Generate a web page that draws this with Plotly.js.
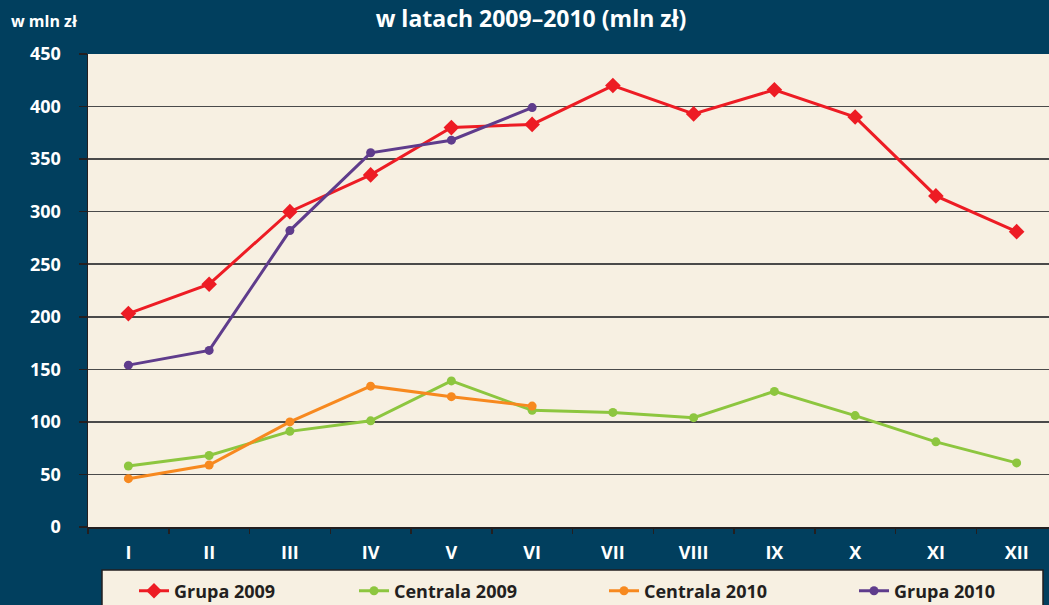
<!DOCTYPE html>
<html><head><meta charset="utf-8">
<script src="https://cdn.plot.ly/plotly-3.0.1.min.js"></script>
<style>html,body{margin:0;padding:0;overflow:hidden;background:#013f5e;}#c{width:1057px;height:605px;}</style>
</head><body><div id="c"></div>
<script>
const months = ['I','II','III','IV','V','VI','VII','VIII','IX','X','XI','XII'];
const grupa2009 = [203, 231, 300, 335, 380, 383, 420, 393, 416, 390, 315, 281];
const centrala2009 = [58, 68, 91, 101, 139, 111, 109, 104, 129, 106, 81, 61];
const centrala2010 = [46, 59, 100, 134, 124, 115];
const grupa2010 = [154, 168, 282, 356, 368, 399];
const yTicks = [0, 50, 100, 150, 200, 250, 300, 350, 400, 450];

const W = 1057, L = 88, T = 54, B = 78, H = 605;
const PW = W - L, PH = H - T - B;
const px = v => (v - L) / PW;
const py = v => (H - B - v) / PH;

const tickFont = {family: '"Open Sans", "Noto Sans", sans-serif', size: 18, color: '#ffffff', weight: 700};
const legFont = {family: '"Open Sans", "Noto Sans", sans-serif', size: 18, color: '#231f20', weight: 700};

const traces = [
  {name: 'Grupa 2009', x: months.slice(0, grupa2009.length), y: grupa2009, mode: 'lines+markers',
   line: {color: '#ed1c24', width: 3}, marker: {symbol: 'diamond', size: 12, color: '#ed1c24'}, legend: 'legend'},
  {name: 'Centrala 2009', x: months.slice(0, centrala2009.length), y: centrala2009, mode: 'lines+markers',
   line: {color: '#8dc63f', width: 3}, marker: {symbol: 'circle', size: 9, color: '#8dc63f'}, legend: 'legend2'},
  {name: 'Centrala 2010', x: months.slice(0, centrala2010.length), y: centrala2010, mode: 'lines+markers',
   line: {color: '#f7891f', width: 3}, marker: {symbol: 'circle', size: 9, color: '#f7891f'}, legend: 'legend3'},
  {name: 'Grupa 2010', x: months.slice(0, grupa2010.length), y: grupa2010, mode: 'lines+markers',
   line: {color: '#5f3c8c', width: 3}, marker: {symbol: 'circle', size: 9, color: '#5f3c8c'}, legend: 'legend4'}
];

function leg(xpix) {
  return {orientation: 'h', x: px(xpix), xanchor: 'left', y: py(591), yanchor: 'middle',
    bgcolor: 'rgba(0,0,0,0)', borderwidth: 0, font: legFont, itemclick: false};
}

const layout = {
  width: W, height: H,
  margin: {l: L, r: 0, t: T, b: B, pad: 0, autoexpand: false},
  paper_bgcolor: '#013f5e',
  plot_bgcolor: '#f7f0e2',
  showlegend: true,
  title: {text: 'w latach 2009\u20132010 (mln z\u0142)', x: 531 / W, xanchor: 'center', xref: 'container',
    y: 1 - 19 / H, yanchor: 'middle', automargin: false,
    font: {family: '"Open Sans", "Noto Sans", sans-serif', size: 23, color: '#ffffff', weight: 700}},
  xaxis: {type: 'category', categoryorder: 'array', categoryarray: months, range: [-0.5, 11.5],
    showgrid: false, zeroline: false, showline: true, linecolor: '#231f20', linewidth: 2,
    ticks: 'outside', tickson: 'boundaries', ticklen: 5, tickwidth: 1.5, tickcolor: '#231f20',
    tickfont: tickFont, ticklabelstandoff: 8, fixedrange: true, automargin: false},
  yaxis: {range: [0, 450], tickvals: yTicks, ticktext: yTicks.map(String),
    showgrid: true, gridcolor: '#4a4a4a', gridwidth: 1.5, zeroline: false,
    showline: true, linecolor: '#231f20', linewidth: 1.5,
    ticks: 'outside', ticklen: 8, tickwidth: 1.5, tickcolor: '#231f20',
    tickfont: tickFont, ticklabelstandoff: 14, fixedrange: true, automargin: false},
  legend: leg(134), legend2: leg(354), legend3: leg(604), legend4: leg(854),
  shapes: [
    {type: 'rect', xref: 'paper', yref: 'paper', x0: px(102), x1: px(1043), y0: py(570), y1: py(640),
     fillcolor: '#f7f0e2', line: {color: '#231f20', width: 1.5}, layer: 'above'}
  ],
  annotations: [
    {text: 'w mln z\u0142', xref: 'paper', yref: 'paper', x: px(9), xanchor: 'left', y: py(21), yanchor: 'middle',
     showarrow: false, font: {family: '"Open Sans", "Noto Sans", sans-serif', size: 16, color: '#ffffff', weight: 700}}
  ]
};

Plotly.newPlot('c', traces, layout, {displayModeBar: false, staticPlot: true});
</script>
</body></html>
